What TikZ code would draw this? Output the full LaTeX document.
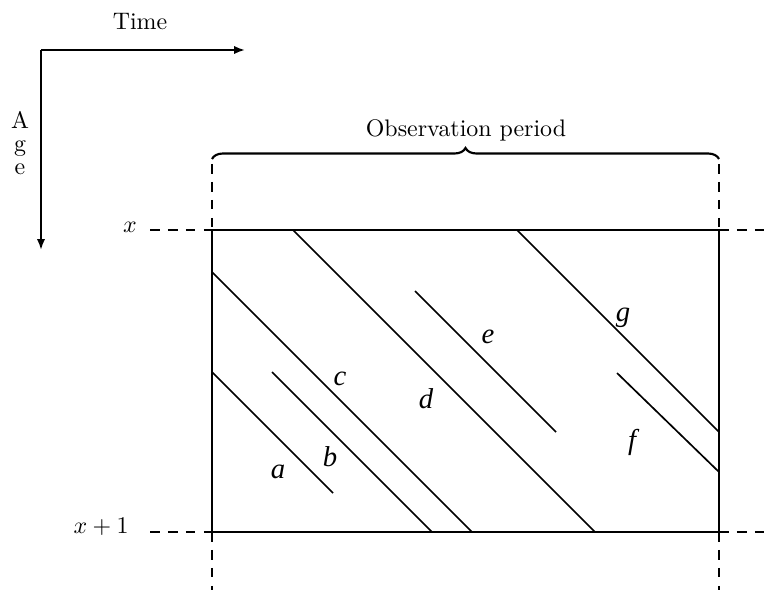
\documentclass[tikz,border=0pt]{standalone}
\usepackage{fontspec}
\newfontfamily\lblfont{Liberation Serif Italic}
\usetikzlibrary{arrows.meta,decorations.pathreplacing}

\begin{document}
\begin{tikzpicture}[
  x=0.0147cm, y=-0.0147cm,
  axis/.style={line width=0.8pt, -{Latex[length=4.5pt,width=3.4pt]}},
  frame/.style={line width=0.8pt},
  life/.style={line width=0.7pt},
  guide/.style={line width=0.7pt, dash pattern=on 4pt off 3.5pt},
  lbl/.style={font=\lblfont\fontsize{12}{14}\selectfont, inner sep=1pt}
]
\useasboundingbox (0,0) rectangle (771,590);

% axes
\coordinate (o) at (41,50);
\coordinate (tend) at (245,50);
\coordinate (aend) at (41,250);
\draw[axis] (o) -- (tend);
\draw[axis] (o) -- (aend);
\node (time) at (140,22) {Time};
\node[align=center, font=\fontsize{10}{9.6}\selectfont, inner sep=0pt] (age) at (20,143) {A\\g\\e};

% observation box
\coordinate (tl) at (212,230);
\coordinate (tr) at (719,230);
\coordinate (bl) at (212,532);
\coordinate (br) at (719,532);
\draw[frame] (tl) rectangle (br);

% dashed guides
\coordinate (xl) at (150,230);
\coordinate (xr) at (771,230);
\coordinate (x1l) at (150,532);
\coordinate (x1r) at (771,532);
\coordinate (pl) at (212,164);
\coordinate (pr) at (719,164);
\coordinate (ql) at (212,590);
\coordinate (qr) at (719,590);
\draw[guide] (xl) -- (tl);
\draw[guide] (tr) -- (xr);
\draw[guide] (x1l) -- (bl);
\draw[guide] (br) -- (x1r);
\draw[guide] (pl) -- (tl);
\draw[guide] (pr) -- (tr);
\draw[guide] (bl) -- (ql);
\draw[guide] (br) -- (qr);

\node[anchor=base, inner sep=0pt] (xlab) at (130,232) {$x$};
\node[anchor=base east, inner sep=0pt] (x1lab) at (129,533) {$x+1$};

% observation period
\draw[line width=0.9pt, decorate, decoration={brace, amplitude=4.6pt}] (212,159) -- (719,159);
\node (obs) at (466,130) {Observation period};

% life lines
\foreach \sx/\sy/\ex/\ey in {212/372/333/493, 272/372/432/532, 212/272/472/532,
  293/230/595/532, 415/291/556/432, 517/230/719/432, 617/373/719/472}
  \draw[life] (\sx,\sy) -- (\ex,\ey);

\foreach \t/\px/\py in {a/278/472, b/330/457, c/340/379, d/426/399,
  e/488/337, f/632/442, g/623/318}
  \node[lbl] (l\t) at (\px,\py) {\t};
\end{tikzpicture}
\end{document}
